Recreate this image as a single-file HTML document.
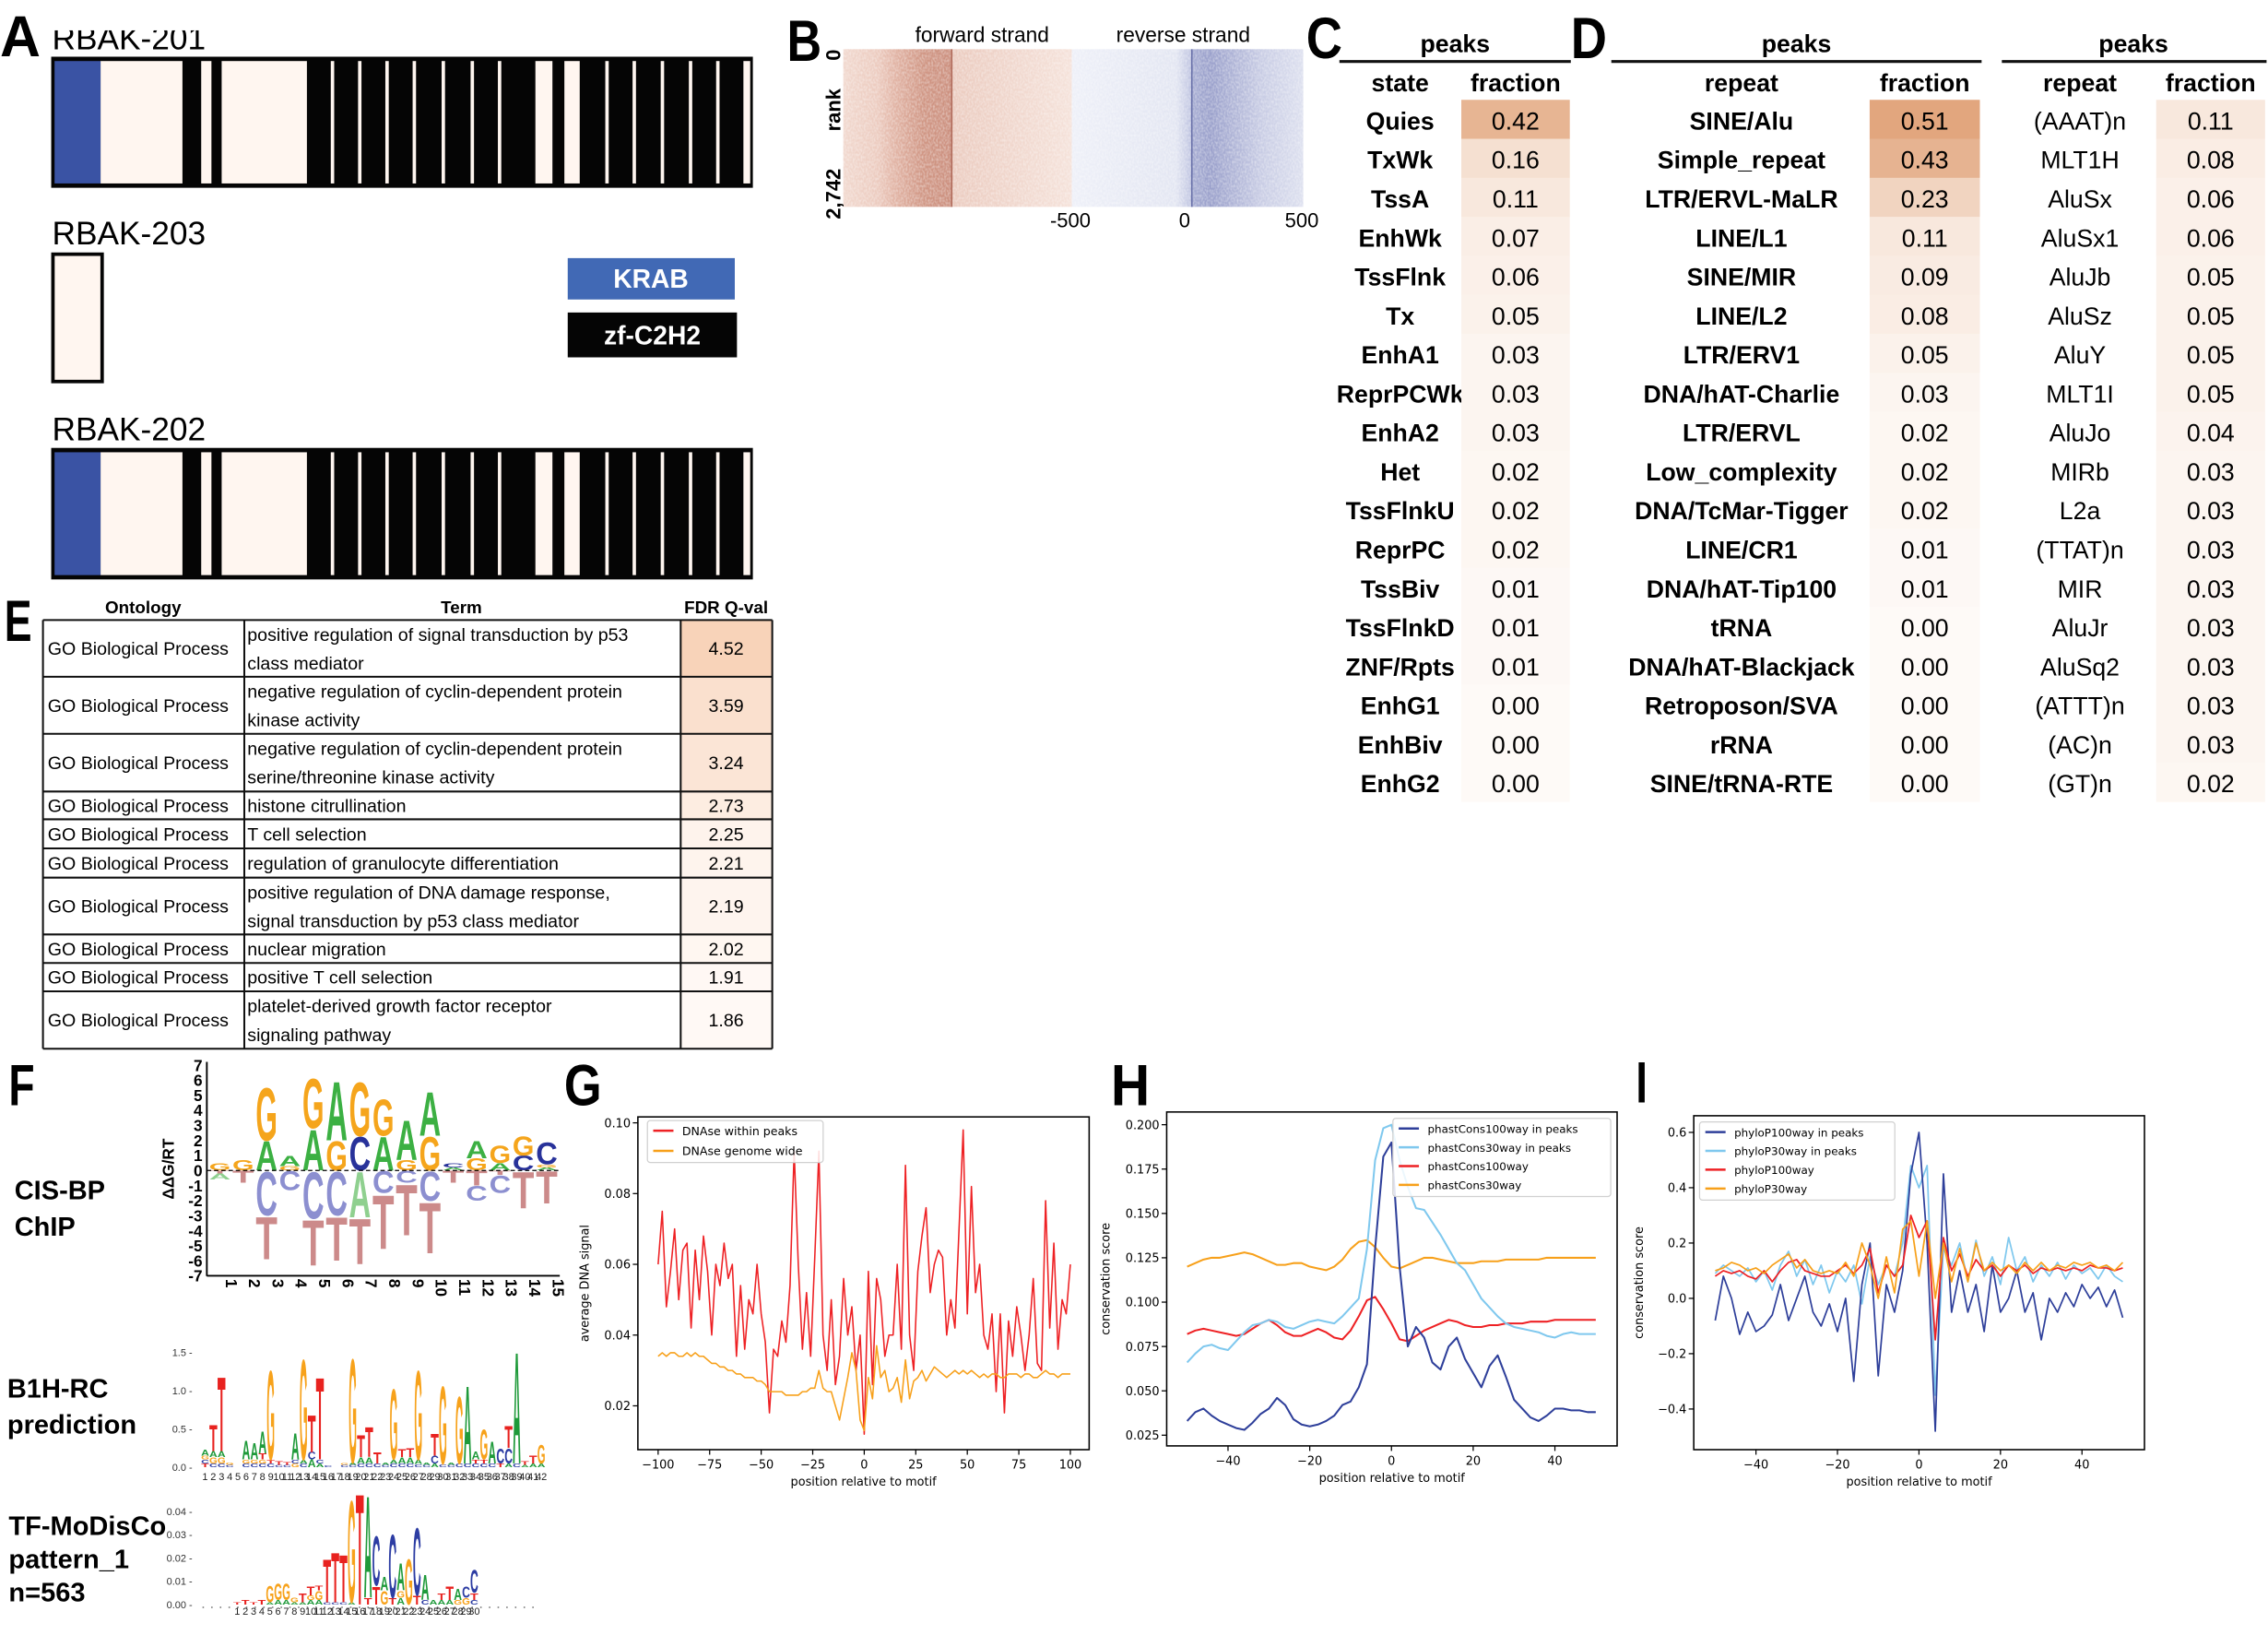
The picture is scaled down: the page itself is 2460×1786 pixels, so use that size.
<!DOCTYPE html>
<html><head><meta charset="utf-8"><style>
html,body{margin:0;padding:0;background:#fff;}
svg{display:block;}
.cal{font-family:"Liberation Sans",sans-serif;}
.mpl{font-family:"DejaVu Sans","Liberation Sans",sans-serif;}
</style></head><body>
<svg id="fig" xmlns="http://www.w3.org/2000/svg" width="2460" height="1786" viewBox="0 0 1568 1138.4" class="cal">
<defs>
<linearGradient id="fwdGrad" x1="0" x2="1" y1="0" y2="0">
<stop offset="0" stop-color="#f1d8ce"/><stop offset="0.15" stop-color="#eccbbf"/><stop offset="0.22" stop-color="#e2b5a6"/><stop offset="0.35" stop-color="#d09684"/><stop offset="0.47" stop-color="#cc907f"/><stop offset="0.48" stop-color="#ebcbbf"/><stop offset="1" stop-color="#f5e2da"/>
</linearGradient>
<linearGradient id="revGrad" x1="0" x2="1" y1="0" y2="0">
<stop offset="0" stop-color="#eef0f8"/><stop offset="0.45" stop-color="#e3e6f2"/><stop offset="0.51" stop-color="#c3c8e3"/><stop offset="0.52" stop-color="#a6acd2"/><stop offset="0.6" stop-color="#9aa0cb"/><stop offset="0.82" stop-color="#c8cce4"/><stop offset="1" stop-color="#dde0ef"/>
</linearGradient>
<filter id="speck" x="0" y="0" width="1" height="1"><feTurbulence type="fractalNoise" baseFrequency="0.9 0.6" numOctaves="1" seed="3"/><feColorMatrix values="0 0 0 0 1  0 0 0 0 1  0 0 0 0 1  0 0 0 -1.6 1.05"/></filter>
</defs>

<!-- Panel letters -->
<text x="0" y="39" font-size="40" font-weight="bold" textLength="28" lengthAdjust="spacingAndGlyphs">A</text>
<text x="544" y="42" font-size="40" font-weight="bold" textLength="24" lengthAdjust="spacingAndGlyphs">B</text>
<text x="903" y="40" font-size="40" font-weight="bold" textLength="25" lengthAdjust="spacingAndGlyphs">C</text>
<text x="1086" y="40" font-size="40" font-weight="bold" textLength="25" lengthAdjust="spacingAndGlyphs">D</text>
<text x="3" y="443" font-size="40" font-weight="bold" textLength="19" lengthAdjust="spacingAndGlyphs">E</text>
<text x="6" y="764" font-size="40" font-weight="bold" textLength="18" lengthAdjust="spacingAndGlyphs">F</text>
<text x="390" y="764" font-size="40" font-weight="bold" textLength="26" lengthAdjust="spacingAndGlyphs">G</text>
<text x="768" y="764" font-size="40" font-weight="bold" textLength="27" lengthAdjust="spacingAndGlyphs">H</text>
<text x="1131" y="762" font-size="40" font-weight="bold" textLength="8" lengthAdjust="spacingAndGlyphs">I</text>

<!-- Panel A -->
<g id="panelA"></g>
<rect x="392.5" y="178.4" width="115.5" height="28.6" fill="#4169b5"/>
<text x="450" y="199" font-size="18" font-weight="bold" fill="#fff" text-anchor="middle">KRAB</text>
<rect x="392.5" y="216" width="117" height="31" fill="#050505"/>
<text x="451" y="238" font-size="18" font-weight="bold" fill="#fff" text-anchor="middle">zf-C2H2</text>

<!-- Panel B -->
<g>
<rect x="583" y="34" width="158" height="109" fill="url(#fwdGrad)"/>
<rect x="741" y="34" width="160" height="109" fill="url(#revGrad)"/>
<rect x="583" y="34" width="318" height="109" fill="#fff" filter="url(#speck)" opacity="0.55"/>
<line x1="658" y1="34" x2="658" y2="143" stroke="#b06a5a" stroke-width="1"/>
<line x1="824" y1="34" x2="824" y2="143" stroke="#6a72aa" stroke-width="1"/>
<text x="679" y="29" font-size="14.5" text-anchor="middle">forward strand</text>
<text x="818" y="29" font-size="14.5" text-anchor="middle">reverse strand</text>
<text x="740" y="157" font-size="14" text-anchor="middle">-500</text>
<text x="819" y="157" font-size="14" text-anchor="middle">0</text>
<text x="900" y="157" font-size="14" text-anchor="middle">500</text>
<text transform="translate(581,76) rotate(-90)" font-size="14" font-weight="bold" text-anchor="middle">rank</text>
<text transform="translate(581,38) rotate(-90)" font-size="14" font-weight="bold" text-anchor="middle">0</text>
<text transform="translate(581,134) rotate(-90)" font-size="14" font-weight="bold" text-anchor="middle">2,742</text>
</g>

<!-- Panels C / D -->
<g id="tables"></g>

<!-- Panel E -->
<g id="panelE"></g>

<!-- Panel F -->
<text x="10" y="829" font-size="18.5" font-weight="bold">CIS-BP</text>
<text x="10" y="854" font-size="18.5" font-weight="bold">ChIP</text>
<text x="5" y="966" font-size="18.5" font-weight="bold">B1H-RC</text>
<text x="5" y="991" font-size="18.5" font-weight="bold">prediction</text>
<text x="6" y="1061" font-size="18.5" font-weight="bold">TF-MoDisCo</text>
<text x="6" y="1084" font-size="18.5" font-weight="bold">pattern_1</text>
<text x="6" y="1107" font-size="18.5" font-weight="bold">n=563</text>
<g id="logoCis"></g>
<g id="logoB1h"></g>
<g id="logoTf"></g>

<!-- Panels G H I -->
<g id="chartG" class="mpl"></g>
<g id="chartH" class="mpl"></g>
<g id="chartI" class="mpl"></g>
</svg>

<script>
// ---------- Chart G data ----------
const gPositions = [];
for (let p = -100; p <= 100; p += 2) gPositions.push(p);
const gWithinPeaks = [0.060,0.075,0.048,0.058,0.070,0.050,0.064,0.066,0.042,0.064,0.050,0.068,0.058,0.040,0.060,0.054,0.066,0.056,0.060,0.034,0.054,0.036,0.050,0.046,0.060,0.046,0.038,0.018,0.036,0.034,0.044,0.038,0.054,0.092,0.060,0.036,0.052,0.034,0.062,0.092,0.040,0.030,0.050,0.026,0.034,0.056,0.040,0.048,0.030,0.040,0.012,0.058,0.026,0.056,0.050,0.034,0.040,0.040,0.060,0.036,0.088,0.040,0.030,0.058,0.068,0.076,0.052,0.060,0.064,0.062,0.040,0.050,0.042,0.070,0.098,0.046,0.082,0.052,0.060,0.040,0.036,0.046,0.024,0.046,0.018,0.044,0.034,0.048,0.040,0.030,0.040,0.056,0.032,0.030,0.078,0.042,0.066,0.036,0.050,0.046,0.060];
const gGenomeWide = [0.034,0.035,0.034,0.035,0.035,0.034,0.034,0.035,0.034,0.035,0.034,0.034,0.033,0.032,0.032,0.031,0.031,0.030,0.030,0.029,0.029,0.028,0.028,0.028,0.027,0.027,0.026,0.024,0.024,0.024,0.024,0.023,0.023,0.023,0.023,0.024,0.024,0.025,0.025,0.030,0.025,0.024,0.024,0.020,0.016,0.022,0.028,0.035,0.030,0.016,0.013,0.028,0.022,0.037,0.028,0.030,0.024,0.025,0.028,0.021,0.033,0.022,0.027,0.028,0.030,0.027,0.029,0.031,0.030,0.029,0.028,0.029,0.030,0.029,0.030,0.029,0.030,0.029,0.028,0.029,0.028,0.029,0.029,0.028,0.028,0.029,0.029,0.029,0.028,0.029,0.029,0.028,0.028,0.029,0.030,0.029,0.029,0.028,0.029,0.029,0.029];
const gXTicks = [-100,-75,-50,-25,0,25,50,75,100];
const gYTicks = [0.02,0.04,0.06,0.08,0.10];
const gYTickLabels = ["0.02","0.04","0.06","0.08","0.10"];

// ---------- Chart H data ----------
const hPositions = [];
for (let p = -50; p <= 50; p += 2) hPositions.push(p);
const hPhast100Peaks = [0.033,0.038,0.040,0.036,0.033,0.031,0.029,0.028,0.032,0.037,0.040,0.046,0.042,0.034,0.031,0.030,0.031,0.033,0.036,0.042,0.044,0.052,0.065,0.130,0.182,0.190,0.120,0.075,0.086,0.080,0.066,0.062,0.075,0.080,0.068,0.060,0.052,0.064,0.070,0.058,0.045,0.040,0.035,0.033,0.036,0.040,0.040,0.039,0.039,0.038,0.038];
const hPhast30Peaks = [0.066,0.071,0.075,0.076,0.074,0.073,0.078,0.083,0.087,0.088,0.090,0.089,0.086,0.085,0.087,0.089,0.090,0.089,0.088,0.092,0.097,0.102,0.130,0.180,0.198,0.200,0.180,0.165,0.153,0.152,0.145,0.138,0.130,0.122,0.118,0.110,0.102,0.097,0.092,0.088,0.086,0.085,0.084,0.083,0.081,0.080,0.082,0.083,0.082,0.082,0.082];
const hPhast100 = [0.082,0.084,0.085,0.084,0.083,0.082,0.081,0.082,0.085,0.088,0.090,0.087,0.083,0.081,0.081,0.083,0.085,0.083,0.080,0.079,0.084,0.092,0.101,0.103,0.096,0.088,0.079,0.078,0.081,0.084,0.086,0.088,0.090,0.089,0.087,0.086,0.086,0.087,0.087,0.088,0.088,0.088,0.089,0.089,0.089,0.090,0.090,0.090,0.090,0.090,0.090];
const hPhast30 = [0.120,0.122,0.124,0.125,0.125,0.126,0.127,0.128,0.127,0.125,0.123,0.121,0.121,0.122,0.122,0.120,0.119,0.118,0.120,0.124,0.130,0.134,0.135,0.131,0.125,0.120,0.119,0.121,0.123,0.125,0.125,0.124,0.123,0.122,0.122,0.122,0.123,0.123,0.123,0.124,0.124,0.124,0.124,0.124,0.125,0.125,0.125,0.125,0.125,0.125,0.125];
const hXTicks = [-40,-20,0,20,40];
const hYTicks = [0.025,0.050,0.075,0.100,0.125,0.150,0.175,0.200];
const hYTickLabels = ["0.025","0.050","0.075","0.100","0.125","0.150","0.175","0.200"];

// ---------- Chart I data ----------
const iPositions = [];
for (let p = -50; p <= 50; p += 2) iPositions.push(p);
const iPhylo100Peaks = [-0.08,0.08,0.00,-0.13,-0.05,-0.12,-0.10,-0.06,0.05,-0.08,0.00,0.08,-0.05,-0.10,-0.02,-0.12,0.00,-0.30,0.05,0.20,-0.28,0.05,-0.05,0.10,0.45,0.60,0.20,-0.48,0.45,-0.05,0.10,-0.05,0.05,-0.12,0.12,-0.05,0.00,0.10,-0.05,0.02,-0.15,0.00,-0.05,0.02,-0.03,0.05,0.00,0.04,-0.03,0.03,-0.07];
const iPhylo30Peaks = [0.09,0.12,0.10,0.08,0.11,0.06,0.10,0.03,0.12,0.17,0.08,0.14,0.05,0.12,0.02,0.10,0.06,0.12,-0.02,0.15,0.05,0.12,0.08,0.20,0.48,0.40,0.48,-0.35,0.18,0.12,0.20,0.06,0.21,0.08,0.15,0.05,0.22,0.10,0.15,0.06,0.12,0.08,0.13,0.07,0.12,0.09,0.11,0.07,0.12,0.08,0.06];
const iPhylo100 = [0.08,0.10,0.09,0.10,0.08,0.07,0.10,0.06,0.10,0.13,0.14,0.10,0.09,0.08,0.08,0.10,0.12,0.09,0.12,0.18,0.02,0.12,0.08,0.12,0.30,0.22,0.28,-0.15,0.22,0.10,0.16,0.08,0.14,0.10,0.12,0.08,0.12,0.10,0.12,0.09,0.11,0.10,0.11,0.10,0.11,0.10,0.12,0.11,0.11,0.10,0.11];
const iPhylo30 = [0.10,0.11,0.13,0.12,0.10,0.11,0.09,0.12,0.14,0.16,0.11,0.14,0.10,0.09,0.10,0.09,0.13,0.08,0.20,0.12,0.00,0.15,0.02,0.25,0.28,0.08,0.28,0.00,0.20,0.06,0.18,0.06,0.20,0.10,0.13,0.10,0.12,0.09,0.13,0.10,0.13,0.10,0.12,0.11,0.13,0.12,0.13,0.11,0.12,0.10,0.13];
const iXTicks = [-40,-20,0,20,40];
const iYTicks = [-0.4,-0.2,0.0,0.2,0.4,0.6];
const iYTickLabels = ["\u22120.4","\u22120.2","0.0","0.2","0.4","0.6"];

// ---------- Table data ----------
const chromStates = ['Quies','TxWk','TssA','EnhWk','TssFlnk','Tx','EnhA1','ReprPCWk','EnhA2','Het','TssFlnkU','ReprPC','TssBiv','TssFlnkD','ZNF/Rpts','EnhG1','EnhBiv','EnhG2'];
const chromFractions = [0.42,0.16,0.11,0.07,0.06,0.05,0.03,0.03,0.03,0.02,0.02,0.02,0.01,0.01,0.01,0.00,0.00,0.00];
const repeatClasses = ['SINE/Alu','Simple_repeat','LTR/ERVL-MaLR','LINE/L1','SINE/MIR','LINE/L2','LTR/ERV1','DNA/hAT-Charlie','LTR/ERVL','Low_complexity','DNA/TcMar-Tigger','LINE/CR1','DNA/hAT-Tip100','tRNA','DNA/hAT-Blackjack','Retroposon/SVA','rRNA','SINE/tRNA-RTE'];
const repeatClassFractions = [0.51,0.43,0.23,0.11,0.09,0.08,0.05,0.03,0.02,0.02,0.02,0.01,0.01,0.00,0.00,0.00,0.00,0.00];
const repeatNames = ['(AAAT)n','MLT1H','AluSx','AluSx1','AluJb','AluSz','AluY','MLT1I','AluJo','MIRb','L2a','(TTAT)n','MIR','AluJr','AluSq2','(ATTT)n','(AC)n','(GT)n'];
const repeatNameFractions = [0.11,0.08,0.06,0.06,0.05,0.05,0.05,0.05,0.04,0.03,0.03,0.03,0.03,0.03,0.03,0.03,0.03,0.02];

const goTerms = [['positive regulation of signal transduction by p53','class mediator'],['negative regulation of cyclin-dependent protein','kinase activity'],['negative regulation of cyclin-dependent protein','serine/threonine kinase activity'],['histone citrullination'],['T cell selection'],['regulation of granulocyte differentiation'],['positive regulation of DNA damage response,','signal transduction by p53 class mediator'],['nuclear migration'],['positive T cell selection'],['platelet-derived growth factor receptor','signaling pathway']];
const goFdr = [4.52,3.59,3.24,2.73,2.25,2.21,2.19,2.02,1.91,1.86];

// ---------- Logo data ----------
const cisTop = [[['G',.5]],[['G',.7]],[['A',2.0],['G',3.6]],[['G',.3],['A',.7]],[['A',2.8],['G',3.4]],[['G',2.0],['A',4.0]],[['C',2.3],['G',3.7]],[['A',2.3],['G',2.5]],[['G',.7],['A',2.7]],[['G',2.3],['A',3.0]],[['A',.2],['C',.3]],[['G',.8],['A',1.2]],[['A',.5],['G',1.2]],[['C',1.0],['G',1.3]],[['A',.2],['G',.2],['C',1.5]]];
const cisBottom = [[['T',.2],['A',.4]],[['T',.8]],[['C',3.0],['T',2.9]],[['C',1.3]],[['C',3.2],['T',3.1]],[['C',3.0],['T',3.0]],[['A',3.1],['T',3.1]],[['C',1.5],['T',3.7]],[['C',.8],['T',3.5]],[['C',2.0],['T',3.5]],[['T',.8]],[['T',1.0],['C',1.0]],[['T',.3],['C',1.2]],[['T',2.5]],[['T',2.2]]];
const b1hStacks = [[['T',.05],['C',.05],['G',.05],['A',.08]],[['C',.05],['G',.08],['A',.08],['T',.35]],[['C',.05],['G',.08],['A',.08],['T',1.0]],[['C',.03],['G',.03]],[],[['C',.05],['G',.05],['A',.25]],[['C',.05],['G',.05],['A',.22]],[['C',.05],['G',.05],['T',.08],['A',.3]],[['C',.05],['T',.05],['G',1.2]],[['C',.03],['T',.05]],[['C',.03],['T',.04]],[['G',.05],['C',.05],['A',.35]],[['C',.05],['A',.05],['G',1.35]],[['A',.1],['C',.1],['T',.5]],[['A',.05],['C',.05],['T',1.1]],[['C',.02]],[],[['C',.03],['G',.02]],[['C',.03],['A',.03],['G',1.4]],[['C',.05],['A',.08],['T',.3]],[['C',.05],['A',.08],['T',.4]],[['C',.05],['T',.15]],[['C',.03],['A',.03]],[['C',.05],['A',.05],['G',.95]],[['C',.05],['A',.08],['T',.1]],[['C',.05],['A',.08],['T',.12]],[['C',.04],['A',.06],['G',1.2]],[['C',.03],['A',.03]],[['A',.05],['C',.1],['T',.3]],[['C',.04],['G',1.05]],[['C',.03],['A',.03]],[['C',.05],['G',.9]],[['C',.05],['A',1.05]],[['C',.05],['T',.05],['A',.1]],[['C',.05],['T',.05],['G',.4]],[['C',.05],['A',.3]],[['T',.05],['C',.2]],[['A',.05],['C',.2],['T',.3]],[['C',.05],['A',1.5]],[['A',.03],['T',.05]],[['A',.05],['T',.1]],[['A',.05],['G',.25]]];
const tfStacks = [[['T',.001]],[['T',.002]],[['T',.001]],[['T',.002]],[['A',.001],['G',.007]],[['A',.002],['G',.007]],[['A',.002],['G',.007]],[['A',.001],['G',.002]],[['A',.001],['T',.004]],[['A',.002],['G',.002],['T',.004]],[['A',.002],['G',.004],['T',.002]],[['C',.001],['T',.019]],[['C',.001],['T',.022]],[['C',.001],['T',.021]],[['A',.001],['G',.045]],[['T',.049]],[['T',.003],['A',.045]],[['T',.008],['C',.022]],[['G',.006],['A',.006]],[['T',.003],['C',.028]],[['A',.003],['G',.003],['A',.012]],[['G',.02]],[['T',.004],['C',.03]],[['C',.002],['A',.011]],[['A',.002]],[['A',.002],['T',.003]],[['A',.002],['T',.006]],[['G',.002],['A',.005]],[['G',.003],['C',.005]],[['C',.002],['T',.003],['C',.01]]];

// ---------- helpers ----------
const NS = 'http://www.w3.org/2000/svg';
function mk(parent, tag, attrs) {
  const e = document.createElementNS(NS, tag);
  for (const k in attrs) e.setAttribute(k, attrs[k]);
  parent.appendChild(e);
  return e;
}
function lin(d0, d1, r0, r1) { return v => r0 + (v - d0) * (r1 - r0) / (d1 - d0); }
const adv = {A:.722, C:.722, G:.778, T:.611};
function drawLetter(g, ch, x, yb, w, h, color) {
  if (h <= 0) return;
  const t = mk(g, 'text', {x:0, y:0, 'font-size':10, 'font-weight':'bold', fill:color, transform:`translate(${x},${yb}) scale(${w/(adv[ch]*10)},${h/7.2})`});
  
  
  t.textContent = ch;
}

// ---------- Panel A ----------
(function(){
  const g = document.getElementById('panelA');
  const light = [[118,214],[236,248],[260,360],[388,392],[420,424],[452,456],[484,488],[518,522],[552,556],[584,588],[628,648],[662,680],[710,714],[742,746],[775,779],[808,812],[840,844],[872,880]];
  const zx = z => z * 0.5894;
  function fullProtein(y0, y1, label, ly, nm) {
    const box = mk(g, 'rect', {x:35.4, y:y0, width:485.1, height:y1-y0, fill:'#050505'});
    
    
    const k = mk(g, 'rect', {x:zx(64), y:y0+3, width:zx(118)-zx(64), height:y1-y0-6, fill:'#3a53a4'});
    
    
    light.forEach(s => {
      const r = mk(g, 'rect', {x:zx(s[0]), y:y0+3, width:zx(s[1])-zx(s[0]), height:y1-y0-6, fill:'#fff6f0'});
      
      
    });
    const t = mk(g, 'text', {x:36, y:ly, 'font-size':22.5});
    
    
    t.textContent = label;
  }
  fullProtein(39.2, 129.8, 'RBAK-201', 34, 'rbak-201');
  const cover = mk(g, 'rect', {x:34, y:0, width:120, height:21, fill:'#fff'});
  
  
  fullProtein(309.6, 400.5, 'RBAK-202', 304.3, 'rbak-202');
  const b = mk(g, 'rect', {x:36.6, y:175.7, width:34, height:88, fill:'#fff6f0', stroke:'#050505', 'stroke-width':2.4});
  
  
  const t = mk(g, 'text', {x:36, y:169, 'font-size':22.5});
  
  
  t.textContent = 'RBAK-203';
})();

// ---------- Panels C / D ----------
function heatColor(v) {
  const f = Math.min(1, v / 0.51);
  return `rgb(${Math.round(254-28*f)},${Math.round(250-84*f)},${Math.round(247-121*f)})`;
}
(function(){
  const g = document.getElementById('tables');
  function table(labels, vals, lineX0, lineX1, peaksX, labX, labHead, cellX0, cellX1, boldLabels, nm) {
    const pk = mk(g, 'text', {x:peaksX, y:36, 'font-size':17, 'font-weight':'bold', 'text-anchor':'middle'});
    
    
    pk.textContent = 'peaks';
    const ln = mk(g, 'line', {x1:lineX0, x2:lineX1, y1:42.5, y2:42.5, stroke:'#111', 'stroke-width':2});
    
    
    const h1 = mk(g, 'text', {x:labX, y:63, 'font-size':17, 'font-weight':'bold', 'text-anchor':'middle'});
    
    
    h1.textContent = labHead;
    const cx = (cellX0 + cellX1) / 2;
    const h2 = mk(g, 'text', {x:cx, y:63, 'font-size':17, 'font-weight':'bold', 'text-anchor':'middle'});
    
    
    h2.textContent = 'fraction';
    labels.forEach((lab, i) => {
      const top = 69 + 26.95 * i;
      const tl = mk(g, 'text', {x:labX, y:top+20.5, 'font-size':17, 'font-weight':boldLabels?'bold':'normal', 'text-anchor':'middle'});
      
      
      tl.textContent = lab;
      const c = mk(g, 'rect', {x:cellX0, y:top, width:cellX1-cellX0, height:27.2, fill:heatColor(vals[i])});
      
      
      const tv = mk(g, 'text', {x:cx, y:top+20.5, 'font-size':17, 'text-anchor':'middle'});
      
      
      tv.textContent = vals[i].toFixed(2);
    });
  }
  table(chromStates, chromFractions, 926, 1086, 1006, 968, 'state', 1010.3, 1085.3, true, 'chromatin-state');
  table(repeatClasses, repeatClassFractions, 1114, 1370, 1242, 1204, 'repeat', 1292.6, 1368.8, true, 'repeat-class');
  table(repeatNames, repeatNameFractions, 1384, 1567, 1475, 1438, 'repeat', 1490.7, 1566, false, 'repeat-name');
})();

// ---------- Panel E ----------
(function(){
  const g = document.getElementById('panelE');
  const xs = [29.7, 168.9, 470.6, 533.9];
  const ys = [428.6,467.8,507.2,547.1,566.3,586.4,606.6,645.9,665.6,685.2,724.9];
  const heads = [['Ontology',99],['Term',319],['FDR Q-val',502]];
  heads.forEach(h => {
    const t = mk(g, 'text', {x:h[1], y:423.9, 'font-size':12, 'font-weight':'bold', 'text-anchor':'middle'});
    
    
    t.textContent = h[0];
  });
  const cmin = 1.86, cmax = 4.52;
  goTerms.forEach((lines, i) => {
    const y0 = ys[i], y1 = ys[i+1];
    const f = (goFdr[i] - cmin) / (cmax - cmin);
    const cell = mk(g, 'rect', {x:xs[2], y:y0, width:xs[3]-xs[2], height:y1-y0, fill:`rgb(${Math.round(255-7*f)},${Math.round(249-38*f)},${Math.round(245-60*f)})`});
    
    
    const mid = (y0 + y1) / 2 + 4.5;
    const o = mk(g, 'text', {x:33, y:mid, 'font-size':12.5});
    
    
    o.textContent = 'GO Biological Process';
    if (lines.length === 1) {
      const t = mk(g, 'text', {x:171, y:mid, 'font-size':12.5});
      
      
      t.textContent = lines[0];
    } else {
      lines.forEach((l, j) => {
        const t = mk(g, 'text', {x:171, y:y0 + 14.5 + j * 19.8, 'font-size':12.5});
        
        
        t.textContent = l;
      });
    }
    const v = mk(g, 'text', {x:502, y:mid, 'font-size':12.5, 'text-anchor':'middle'});
    
    
    v.textContent = goFdr[i].toFixed(2);
  });
  ys.forEach(y => {
    const l = mk(g, 'line', {x1:xs[0], x2:xs[3], y1:y, y2:y, stroke:'#111', 'stroke-width':1.3});
    
    
  });
  xs.forEach(x => {
    const l = mk(g, 'line', {x1:x, x2:x, y1:ys[0], y2:ys[ys.length-1], stroke:'#111', 'stroke-width':1.3});
    
    
  });
})();

// ---------- Panel F logos ----------
(function(){
  const g = document.getElementById('logoCis');
  const y = lin(0, 7, 809, 736.2);
  const x = p => 152 + (p - 1) * 16.14;
  const col = {A:'#3cb043', C:'#28329a', G:'#f5a51c', T:'#d62d2d'};
  const colL = {A:'#8fd08f', C:'#8c8fd0', G:'#f9cf8a', T:'#cc8a8a'};
  cisTop.forEach((st, i) => {
    let acc = 0;
    st.forEach(s => { drawLetter(g, s[0], x(i+1)-7.5, y(acc), 15, y(0)-y(s[1]), col[s[0]]); acc += s[1]; });
  });
  cisBottom.forEach((st, i) => {
    let acc = 0;
    st.forEach(s => { drawLetter(g, s[0], x(i+1)-7.5, y(-acc-s[1]), 15, y(0)-y(s[1]), colL[s[0]]); acc += s[1]; });
  });
  const ax = mk(g, 'line', {x1:143, x2:143, y1:734, y2:882, stroke:'#000', 'stroke-width':1.2});
  
  
  const bx = mk(g, 'line', {x1:143, x2:387, y1:881.8, y2:881.8, stroke:'#000', 'stroke-width':1.2});
  
  
  const z = mk(g, 'line', {x1:143, x2:387, y1:809, y2:809, stroke:'#000', 'stroke-width':0.8, 'stroke-dasharray':'3,2'});
  
  
  for (let v = -7; v <= 7; v++) {
    const t = mk(g, 'text', {x:140, y:y(v)+4, 'font-size':11, 'font-weight':'bold', 'text-anchor':'end'});
    
    
    t.textContent = String(v);
  }
  for (let p = 1; p <= 15; p++) {
    const t = mk(g, 'text', {transform:`translate(${x(p)+4},${884}) rotate(90)`, 'font-size':11, 'font-weight':'bold'});
    
    
    t.textContent = String(p);
  }
  const yl = mk(g, 'text', {transform:'translate(120,808) rotate(-90)', 'font-size':11, 'font-weight':'bold', 'text-anchor':'middle'});
  
  
  yl.textContent = '\u0394\u0394G/RT';

  const g2 = document.getElementById('logoB1h');
  const y2 = lin(0, 1.5, 1014.1, 934.7);
  const x2 = p => 141.8 + (p - 1) * 5.67;
  const col2 = {A:'#1f9a3a', C:'#2d3da3', G:'#f7a21b', T:'#e8221f'};
  b1hStacks.forEach((st, i) => {
    let acc = 0;
    st.forEach(s => { drawLetter(g2, s[0], x2(i+1)-2.8, y2(acc), 5.6, y2(0)-y2(s[1]), col2[s[0]]); acc += s[1]; });
  });
  [0, 0.5, 1.0, 1.5].forEach(v => {
    const t = mk(g2, 'text', {x:133, y:y2(v)+2.5, 'font-size':7, fill:'#333', 'text-anchor':'end'});
    
    
    t.textContent = v.toFixed(1) + ' -';
  });
  for (let p = 1; p <= 42; p++) {
    const t = mk(g2, 'text', {x:x2(p), y:1023, 'font-size':7, fill:'#222', 'text-anchor':'middle'});
    
    
    t.textContent = String(p);
  }

  const g3 = document.getElementById('logoTf');
  const y3 = lin(0, 0.04, 1109, 1044.6);
  const x3 = p => 164 + (p - 1) * 5.65;
  tfStacks.forEach((st, i) => {
    let acc = 0;
    st.forEach(s => { drawLetter(g3, s[0], x3(i+1)-2.8, y3(acc), 5.6, y3(0)-y3(s[1]), col2[s[0]]); acc += s[1]; });
  });
  [0, 0.01, 0.02, 0.03, 0.04].forEach(v => {
    const t = mk(g3, 'text', {x:133, y:y3(v)+2.5, 'font-size':7, fill:'#333', 'text-anchor':'end'});
    
    
    t.textContent = v.toFixed(2) + ' -';
  });
  for (let p = 1; p <= 30; p++) {
    const t = mk(g3, 'text', {x:x3(p), y:1116, 'font-size':7, fill:'#222', 'text-anchor':'middle'});
    
    
    t.textContent = String(p);
  }
  const tl = mk(g3, 'line', {x1:140, x2:374, y1:1111, y2:1111, stroke:'#555', 'stroke-width':0.8, 'stroke-dasharray':'1,5'});
  
  
})();

// ---------- Line charts ----------
function chart(id, box, xs, ys, xTicks, yTicks, yTickLabels, series, legend, legendBox, yTitle, yTitleX, xTickFmt) {
  const g = document.getElementById(id);
  const r = mk(g, 'rect', {x:box.x0, y:box.y0, width:box.x1-box.x0, height:box.y1-box.y0, fill:'#fff', stroke:'#000', 'stroke-width':1});
  
  
  series.forEach(s => {
    const pts = s.pos.map((p, i) => `${xs(p).toFixed(2)},${ys(s.vals[i]).toFixed(2)}`).join(' ');
    const pl = mk(g, 'polyline', {points:pts, fill:'none', stroke:s.color, 'stroke-width':s.w, 'stroke-linejoin':'round'});
    
    
  });
  xTicks.forEach(v => {
    const l = mk(g, 'line', {x1:xs(v), x2:xs(v), y1:box.y1, y2:box.y1+3.5, stroke:'#000', 'stroke-width':0.8});
    
    
    const t = mk(g, 'text', {x:xs(v), y:box.y1+13, 'font-size':8.2, 'text-anchor':'middle'});
    
    
    t.textContent = xTickFmt(v);
  });
  yTicks.forEach((v, i) => {
    const l = mk(g, 'line', {x1:box.x0-3.5, x2:box.x0, y1:ys(v), y2:ys(v), stroke:'#000', 'stroke-width':0.8});
    
    
    const t = mk(g, 'text', {x:box.x0-5, y:ys(v)+3, 'font-size':8.2, 'text-anchor':'end'});
    
    
    t.textContent = yTickLabels[i];
  });
  const xl = mk(g, 'text', {x:(box.x0+box.x1)/2, y:box.y1+25, 'font-size':8.2, 'text-anchor':'middle'});
  
  
  xl.textContent = 'position relative to motif';
  const yl = mk(g, 'text', {transform:`translate(${yTitleX},${(box.y0+box.y1)/2}) rotate(-90)`, 'font-size':8.2, 'text-anchor':'middle'});
  
  
  yl.textContent = yTitle;
  const lb = mk(g, 'rect', {x:legendBox.x, y:legendBox.y, width:legendBox.w, height:legendBox.h, rx:2, fill:'#fff', 'fill-opacity':0.85, stroke:'#d0d0d0', 'stroke-width':0.8});
  
  
  legend.forEach((e, i) => {
    const yy = legendBox.y + 7 + i * legendBox.step;
    const l = mk(g, 'line', {x1:legendBox.x+4, x2:legendBox.x+18, y1:yy, y2:yy, stroke:e.color, 'stroke-width':1.6});
    
    
    const t = mk(g, 'text', {x:legendBox.x+24, y:yy+3, 'font-size':legendBox.fs});
    
    
    t.textContent = e.label;
  });
}
const mfmt = v => v < 0 ? '\u2212' + Math.abs(v) : String(v);

chart('chartG', {x0:441, x1:753, y0:772, y1:1002}, lin(-100, 100, 455, 740), lin(0.02, 0.10, 971.7, 776.1),
  gXTicks, gYTicks, gYTickLabels,
  [{pos:gPositions, vals:gWithinPeaks, color:'#ee2124', w:1, name:'dnase-within-peaks-line'},
   {pos:gPositions, vals:gGenomeWide, color:'#f7a01a', w:1, name:'dnase-genome-wide-line'}],
  [{label:'DNAse within peaks', color:'#ee2124'}, {label:'DNAse genome wide', color:'#f7a01a'}],
  {x:447.6, y:774.5, w:121.5, h:29, step:14, fs:8}, 'average DNA signal', 407, mfmt);

chart('chartH', {x0:806.6, x1:1118, y0:768.6, y1:999.4}, lin(-40, 40, 849, 1075), lin(0.025, 0.200, 992, 777.4),
  hXTicks, hYTicks, hYTickLabels,
  [{pos:hPositions, vals:hPhast30, color:'#f7a01a', w:1.3, name:'phastcons30way-line'},
   {pos:hPositions, vals:hPhast100, color:'#ee2124', w:1.3, name:'phastcons100way-line'},
   {pos:hPositions, vals:hPhast30Peaks, color:'#7fc8ee', w:1.3, name:'phastcons30way-peaks-line'},
   {pos:hPositions, vals:hPhast100Peaks, color:'#2e3f9a', w:1.3, name:'phastcons100way-peaks-line'}],
  [{label:'phastCons100way in peaks', color:'#2e3f9a'}, {label:'phastCons30way in peaks', color:'#7fc8ee'}, {label:'phastCons100way', color:'#ee2124'}, {label:'phastCons30way', color:'#f7a01a'}],
  {x:963, y:773, w:150.6, h:54, step:13, fs:7.6}, 'conservation score', 767, mfmt);

chart('chartI', {x0:1171, x1:1482.6, y0:771.2, y1:1002}, lin(-40, 40, 1214, 1439.4), lin(-0.4, 0.6, 973.9, 782.7),
  iXTicks, iYTicks, iYTickLabels,
  [{pos:iPositions, vals:iPhylo30Peaks, color:'#7fc8ee', w:1.1, name:'phylop30way-peaks-line'},
   {pos:iPositions, vals:iPhylo100Peaks, color:'#2e3f9a', w:1.1, name:'phylop100way-peaks-line'},
   {pos:iPositions, vals:iPhylo100, color:'#ee2124', w:1.1, name:'phylop100way-line'},
   {pos:iPositions, vals:iPhylo30, color:'#f7a01a', w:1.1, name:'phylop30way-line'}],
  [{label:'phyloP100way in peaks', color:'#2e3f9a'}, {label:'phyloP30way in peaks', color:'#7fc8ee'}, {label:'phyloP100way', color:'#ee2124'}, {label:'phyloP30way', color:'#f7a01a'}],
  {x:1175, y:775.5, w:135, h:54, step:13, fs:7.6}, 'conservation score', 1136, v => v < 0 ? '\u2212' + Math.abs(v) : String(v));
</script>
</body></html>
